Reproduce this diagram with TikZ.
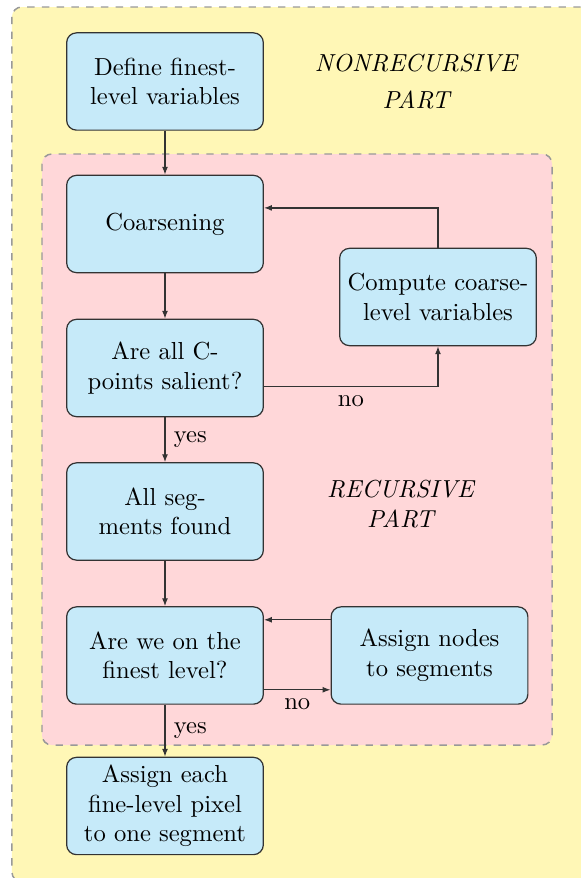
\documentclass[tikz,border=0pt]{standalone}
\usepackage{tikz}
\usetikzlibrary{arrows.meta,calc}
\definecolor{blkfill}{RGB}{198,234,249}
\definecolor{outerfill}{RGB}{255,247,182}
\definecolor{innerfill}{RGB}{255,215,217}
\tikzset{
  blk/.style={rectangle,rounded corners=4pt,draw=black!80,fill=blkfill,line width=.5pt,
    minimum width=2.81cm,minimum height=1.39cm,inner sep=3pt,align=center},
  grpo/.style={rounded corners=4pt,draw=black!40,fill=outerfill,dashed,line width=.6pt},
  grpi/.style={rounded corners=4pt,draw=black!40,fill=innerfill,dashed,line width=.6pt},
  arr/.style={-{Latex[length=3.2pt,width=2.4pt]},line width=.5pt,draw=black!80},
  lb/.style={font=\normalsize},
  tb/.style={font=\itshape,align=center},
}
\begin{document}
\begin{tikzpicture}
\useasboundingbox (0,0) rectangle (8.286,-12.543);
\draw[grpo] (0.171,-0.1) rectangle (8.45,-12.6);
\draw[grpi] (0.6,-2.2) rectangle (7.886,-10.643);

\node[blk] (b1) at (2.357,-1.164) {Define finest-\\level variables};
\node[blk] (b2) at (2.357,-3.2) {Coarsening};
\node[blk] (b3) at (2.357,-5.257) {Are all C-\\points salient?};
\node[blk] (b4) at (2.357,-7.307) {All seg-\\ments found};
\node[blk] (b5) at (2.357,-9.364) {Are we on the\\finest level?};
\node[blk] (b6) at (2.357,-11.514) {Assign each\\fine-level pixel\\to one segment};
\node[blk] (comp) at (6.257,-4.243) {Compute coarse-\\level variables};
\node[blk] (asn) at (6.136,-9.364) {Assign nodes\\to segments};

\node[tb] (nonrec) at (5.943,-1.164) {NONRECURSIVE\\[3pt]PART};
\node[tb] (rec) at (5.72,-7.2) {RECURSIVE\\PART};

\draw[arr] (b1) -- (b2);
\draw[arr] (b2) -- (b3);
\draw[arr] ([yshift=-.26cm]b3.east) -| node[lb,below,pos=.25] {no} (comp.south);
\draw[arr] (comp.north) |- ([yshift=.23cm]b2.east);
\draw[arr] (b3) -- node[lb,right] {yes} (b4);
\draw[arr] (b4) -- (b5);
\draw[arr] ([yshift=-.49cm]b5.east) -- node[lb,below] {no} ([yshift=-.49cm]asn.west);
\draw[arr] ([yshift=.51cm]asn.west) -- ([yshift=.51cm]b5.east);
\draw[arr] (b5) -- node[lb,right] {yes} (b6);
\end{tikzpicture}
\end{document}
